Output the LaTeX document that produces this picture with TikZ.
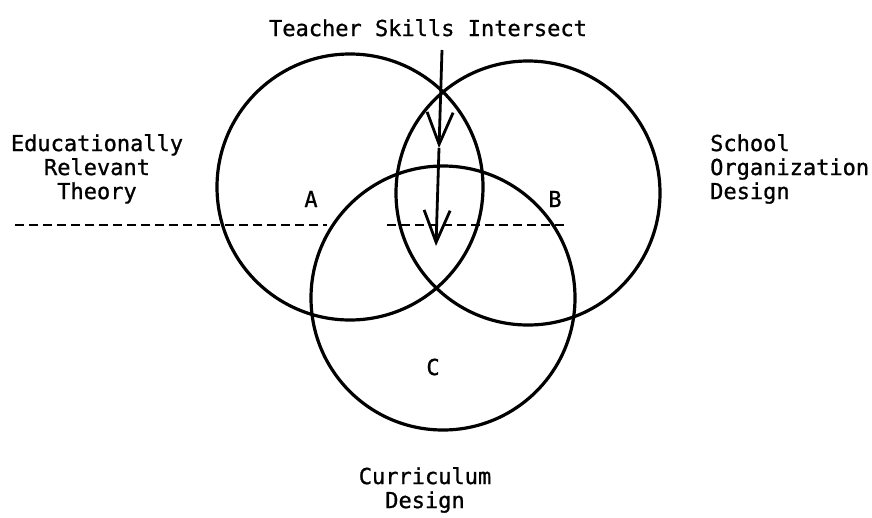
\documentclass[tikz,border=0pt]{standalone}
\usepackage{fontspec}
\newfontfamily\typewr[FakeBold=1]{DejaVu Sans Mono}
\usetikzlibrary{arrows.meta}

\begin{document}
\begin{tikzpicture}[x=1pt,y=-1pt]
	\tikzset{ring/.style={draw, circle, line width=3.2pt, minimum size=#1},
		lbl/.style={inner sep=0pt, font=\typewr\fontsize{22}{24}\selectfont},
		barb/.style={line width=2.8pt, -{Straight Barb[length=32pt,width=26pt]}},
		cut/.style={line width=1.4pt, dash pattern=on 9pt off 5pt}}
	\useasboundingbox (0,0) rectangle (872,517);
	% the three fields
	\node[ring=266pt] (A) at (350,187) {};
	\node[ring=264pt] (B) at (528,193) {};
	\node[ring=264pt] (C) at (443,298) {};
	\node[lbl] (a) at (311,199) {A};
	\node[lbl] (b) at (555,199) {B};
	\node[lbl] (c) at (433,367) {C};
	% field names
	\node[lbl, anchor=north, align=center] (theory) at (97,134) {Educationally\\Relevant\\Theory};
	\node[lbl, anchor=north west, align=left] (school) at (710,134) {School\\Organization\\Design};
	\node[lbl, anchor=north, align=center] (curr) at (425,467) {Curriculum\\Design};
	\node[lbl, anchor=north] (skills) at (428,19) {Teacher Skills Intersect};
	% arrow down through the overlap
	\coordinate (top) at (442,50);
	\coordinate (mid) at (439,148);
	\coordinate (tip) at (436,246);
	\draw[barb] (top) -- (mid);
	\draw[barb] (mid) -- (tip);
	% dashed cut
	\coordinate (cutl) at (15,225);
	\coordinate (cutm) at (327,225);
	\coordinate (cutn) at (387,225);
	\coordinate (cutr) at (567,225);
	\draw[cut] (cutl) -- (cutm);
	\draw[cut] (cutn) -- (cutr);
\end{tikzpicture}
\end{document}
